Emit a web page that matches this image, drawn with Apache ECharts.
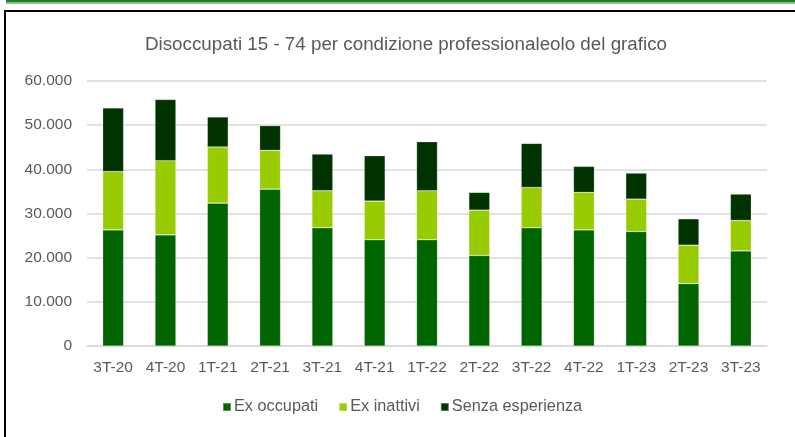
<!DOCTYPE html>
<html>
<head>
<meta charset="utf-8">
<script src="https://cdn.jsdelivr.net/npm/echarts@6/dist/echarts.min.js"></script>
<style>
  html, body { margin: 0; padding: 0; background: #fff; }
  #chart { width: 795px; height: 437px; }
</style>
</head>
<body>
<div id="chart"></div>
<script>
// Quarters
const categories = ['3T-20', '4T-20', '1T-21', '2T-21', '3T-21', '4T-21', '1T-22', '2T-22', '3T-22', '4T-22', '1T-23', '2T-23', '3T-23'];
// Unemployed aged 15-74 by professional condition
const exOccupati = [26300, 25170, 32350, 35530, 26760, 24040, 24040, 20480, 26760, 26300, 25930, 14130, 21540];
const exInattivi = [13200, 16780, 12700, 8760, 8390, 8760, 11110, 10280, 9140, 8470, 7330, 8700, 6870];
const senzaEsperienza = [14400, 13850, 6810, 5600, 8310, 10280, 11110, 4010, 9980, 5900, 5890, 5970, 5990];

const FONT = '"Liberation Sans", Arial, sans-serif';
const TXT = '#595959';

const chart = echarts.init(document.getElementById('chart'), null, { renderer: 'canvas' });

function fmt(v) {
  return v === 0 ? '0' : String(v).replace(/\B(?=(\d{3})+(?!\d))/g, '.');
}

function barSeries(name, data, color) {
  return {
    name: name,
    type: 'bar',
    stack: 'tot',
    data: data,
    barWidth: '40%',
    itemStyle: { color: color, borderColor: 'rgba(255,255,255,0.35)', borderWidth: 0.6 },
    emphasis: { disabled: true }
  };
}

chart.setOption({
  animation: false,
  backgroundColor: '#ffffff',
  textStyle: { fontFamily: FONT },
  graphic: [
    { type: 'rect', shape: { x: 6, y: 0, width: 789, height: 2.5 }, style: { fill: '#12891a' }, silent: true },
    { type: 'rect', shape: { x: 6, y: 3, width: 789, height: 1 }, style: { fill: '#a8a8a8' }, silent: true },
    { type: 'rect', shape: { x: 4, y: 10, width: 791, height: 2 }, style: { fill: '#000000' }, silent: true },
    { type: 'rect', shape: { x: 4, y: 10, width: 2, height: 427 }, style: { fill: '#000000' }, silent: true }
  ],
  title: {
    text: 'Disoccupati 15 - 74 per condizione professionaleolo del grafico',
    left: 401,
    textAlign: 'center',
    top: 30,
    textStyle: { fontFamily: FONT, fontSize: 18.8, fontWeight: 'normal', color: TXT }
  },
  legend: {
    data: ['Ex occupati', 'Ex inattivi', 'Senza esperienza'],
    left: 222,
    top: 399,
    padding: 0,
    itemWidth: 8,
    itemHeight: 8,
    itemGap: 20,
    icon: 'rect',
    textStyle: { fontFamily: FONT, fontSize: 16.3, color: TXT, padding: [0, 0, 0, -2] }
  },
  grid: { left: 87, right: 28, top: 81, bottom: 91, containLabel: false },
  xAxis: {
    type: 'category',
    data: categories,
    axisLine: { show: true, lineStyle: { color: '#d9d9d9', width: 1.5 } },
    axisTick: { show: false },
    axisLabel: { fontFamily: FONT, fontSize: 15.5, color: TXT, margin: 14 }
  },
  yAxis: {
    type: 'value',
    min: 0,
    max: 60000,
    interval: 10000,
    axisLine: { show: false },
    axisTick: { show: false },
    splitLine: { lineStyle: { color: '#d9d9d9', width: 1.5 } },
    axisLabel: { fontFamily: FONT, fontSize: 15.5, color: TXT, margin: 15, formatter: fmt }
  },
  series: [
    barSeries('Ex occupati', exOccupati, '#006400'),
    barSeries('Ex inattivi', exInattivi, '#99cc00'),
    barSeries('Senza esperienza', senzaEsperienza, '#003300')
  ]
});
</script>
</body>
</html>
